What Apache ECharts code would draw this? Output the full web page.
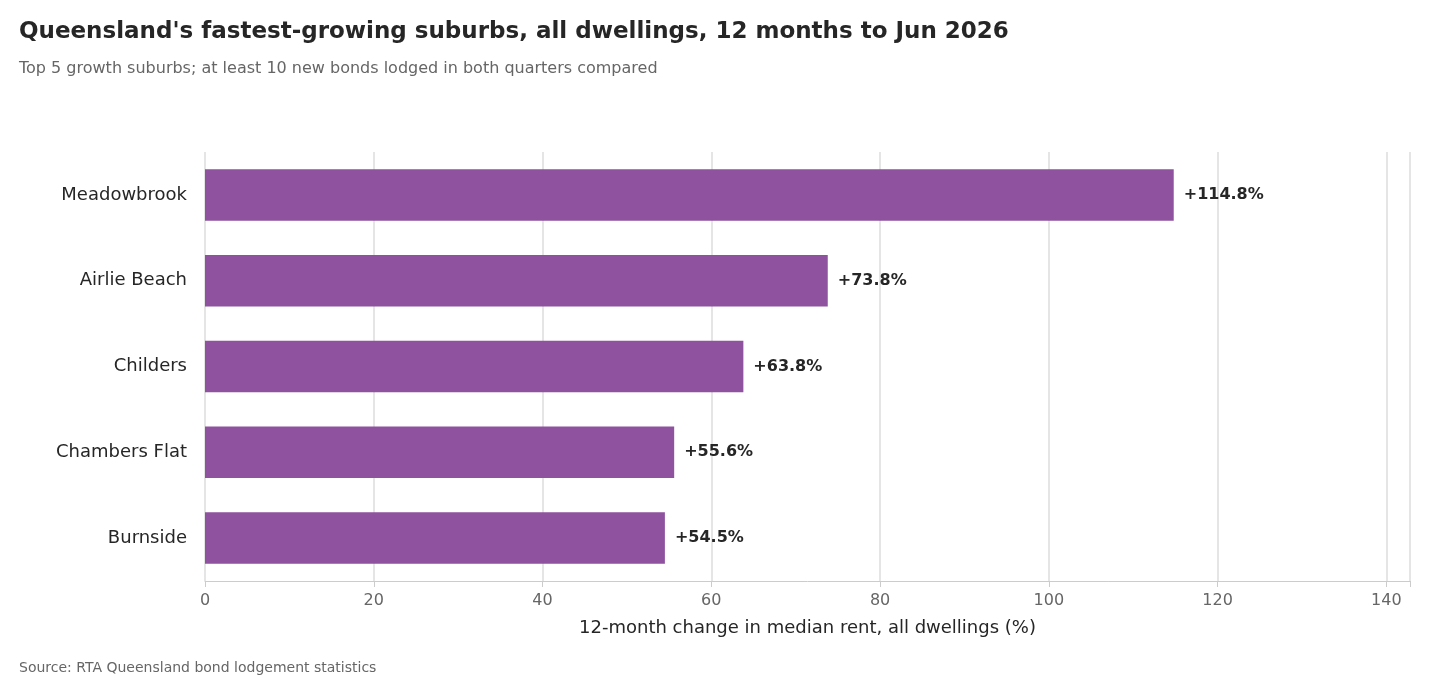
<!DOCTYPE html>
<html>
<head>
<meta charset="utf-8">
<script src="https://cdn.jsdelivr.net/npm/echarts@6/dist/echarts.min.js"></script>
<style>html,body{margin:0;padding:0;background:#fff}#chart{width:1430px;height:676px}</style>
</head>
<body>
<div id="chart"></div>
<script>
var suburbs = ['Meadowbrook', 'Airlie Beach', 'Childers', 'Chambers Flat', 'Burnside'];
var changes = [114.8, 73.8, 63.8, 55.6, 54.5];
var font = 'DejaVu Sans';

var chart = echarts.init(document.getElementById('chart'));
chart.setOption({
	textStyle: { fontFamily: font },
	title: [{
		text: "Queensland's fastest-growing suburbs, all dwellings, 12 months to Jun 2026",
		left: 14, top: 16,
		textStyle: { fontSize: 23, fontWeight: 'bold', color: '#262626', fontFamily: font }
	}, {
		text: 'Top 5 growth suburbs; at least 10 new bonds lodged in both quarters compared',
		left: 14, top: 56,
		textStyle: { fontSize: 16, fontWeight: 'normal', color: '#666', fontFamily: font }
	}, {
		text: 'Source: RTA Queensland bond lodgement statistics',
		left: 14, top: 656,
		textStyle: { fontSize: 14, fontWeight: 'normal', color: '#666', fontFamily: font }
	}],
	grid: { left: 205, right: 20, top: 152, bottom: 95 },
	xAxis: {
		type: 'value', min: 0, max: 142.8, interval: 20,
		name: '12-month change in median rent, all dwellings (%)',
		nameLocation: 'middle', nameGap: 38,
		nameTextStyle: { fontSize: 18, color: '#262626' },
		axisLine: { show: true, lineStyle: { color: '#ccc' } },
		axisTick: { show: true, length: 6, lineStyle: { color: '#ccc' } },
		axisLabel: { fontSize: 16, color: '#666', margin: 12,
			formatter: function(v) { return v % 20 === 0 ? v : ''; } },
		splitLine: { show: true, lineStyle: { color: '#ddd', width: 1.5 } }
	},
	yAxis: {
		type: 'category', data: suburbs, inverse: true,
		axisLine: { show: false },
		axisTick: { show: false },
		axisLabel: { fontSize: 18, color: '#262626', margin: 18 }
	},
	series: [{
		type: 'bar', data: changes, barWidth: '60%',
		itemStyle: { color: '#8e529f' },
		label: {
			show: true, position: 'right', distance: 10,
			fontSize: 16, fontWeight: 'bold', color: '#262626',
			formatter: function(p) { return '+' + p.value.toFixed(1) + '%'; }
		}
	}]
});
</script>
</body>
</html>
